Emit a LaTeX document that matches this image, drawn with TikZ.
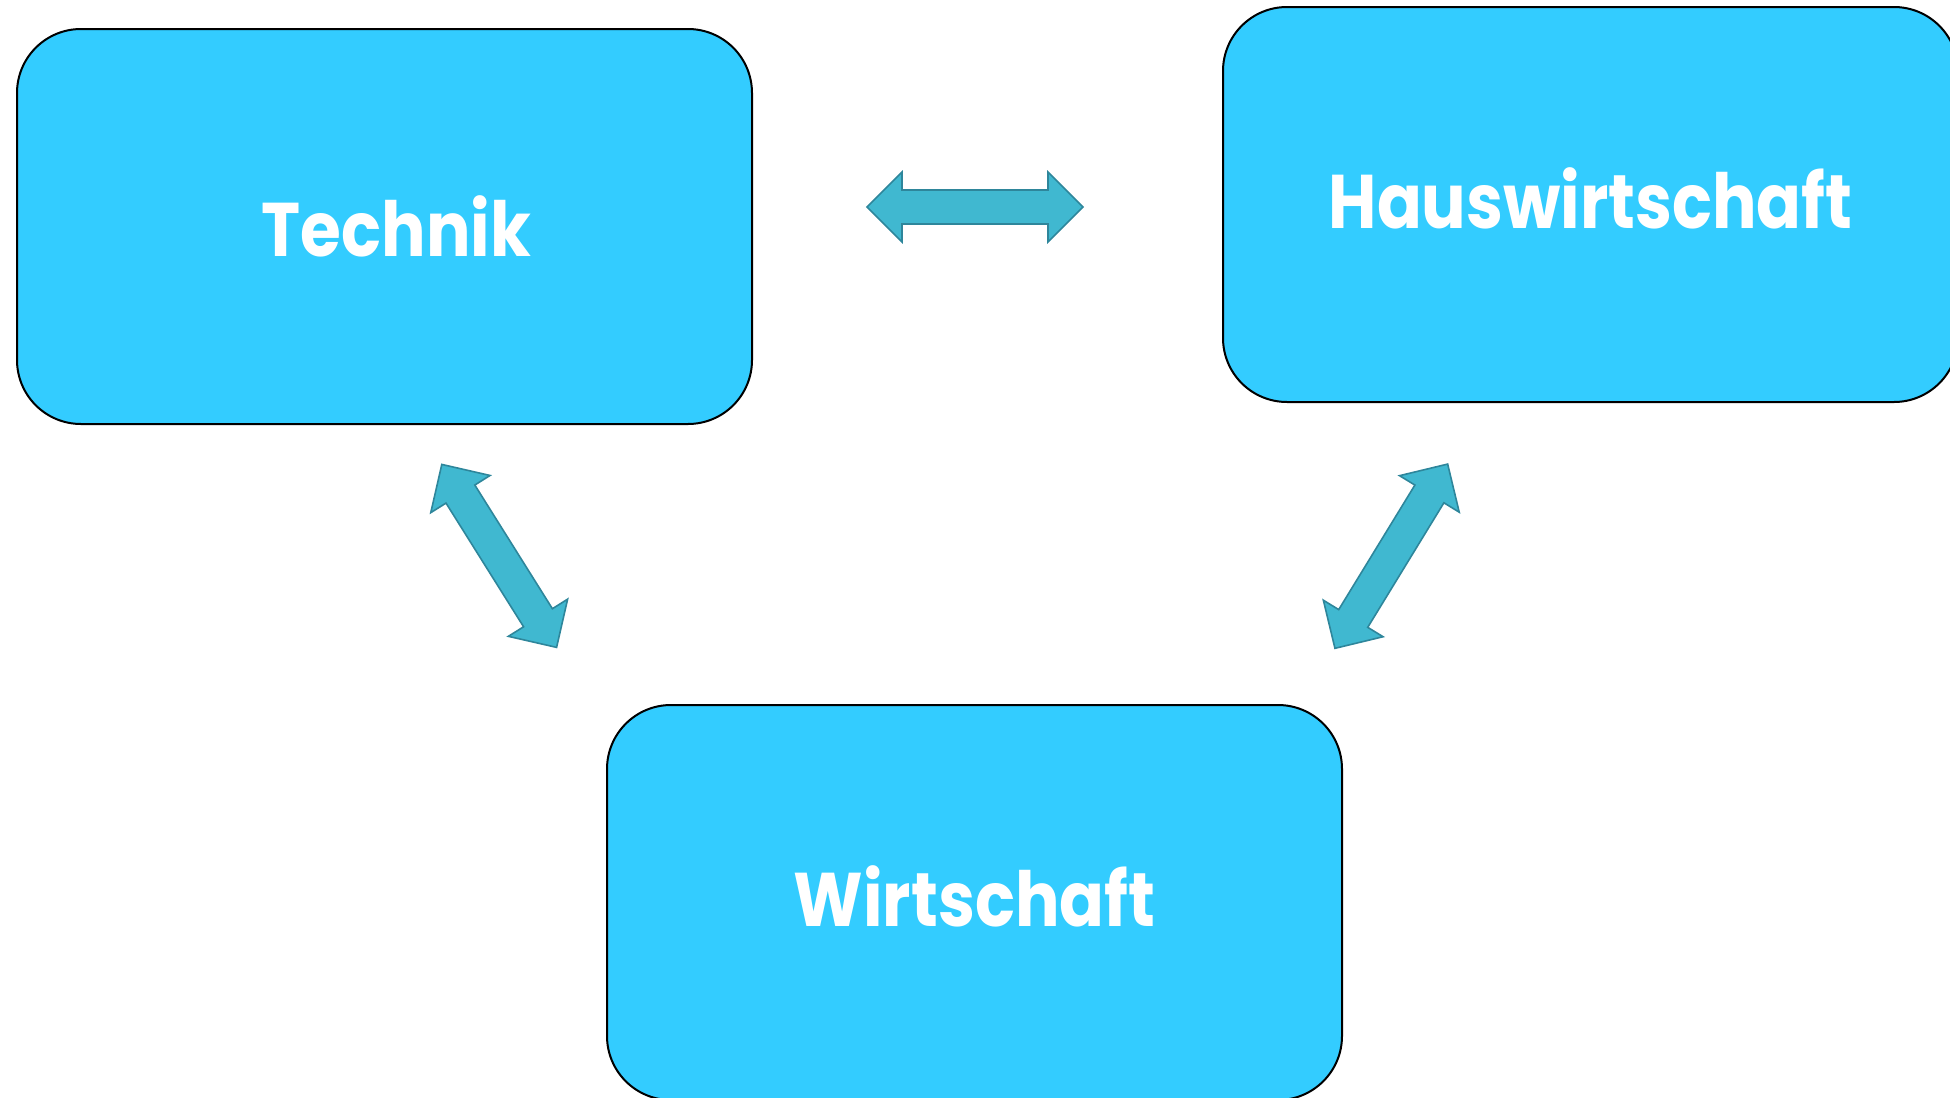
\documentclass[tikz,border=0pt]{standalone}
\usepackage{fontspec}
\newfontfamily\popfont{Poppins}[FakeStretch=0.87]
\definecolor{boxblue}{RGB}{51,204,255}
\definecolor{arrowfill}{RGB}{64,184,208}
\definecolor{arrowline}{RGB}{46,134,155}
\tikzset{
  topicbox/.style={draw=black, line width=1pt, fill=boxblue, rounded corners=32pt,
    minimum width=367.5pt, minimum height=197.5pt, inner sep=0pt, text=white,
    font=\popfont\bfseries\fontsize{38}{40}\selectfont},
  blockarrow/.style={fill=arrowfill, draw=arrowline, line width=0.8pt, line join=miter}
}
\newcommand{\dblarrow}{(-108,0) -- (-73,35) -- (-73,17) -- (73,17) -- (73,35) -- (108,0) -- (73,-35) -- (73,-17) -- (-73,-17) -- (-73,-35) -- cycle}
\begin{document}
\begin{tikzpicture}[x=0.5pt,y=-0.5pt]
\useasboundingbox (0,0) rectangle (1950,1098);
\clip (0,0) rectangle (1950,1098);
\node[topicbox] (technik) at (384.5,226.5) {\hspace*{12pt}Technik};
\node[topicbox] (haus) at (1590.5,204.5) {\raisebox{6pt}{Hauswirtschaft}};
\node[topicbox] (wirt) at (974.5,902.5) {\raisebox{6pt}{Wirtschaft}};
\begin{scope}[shift={(975,207)}]
  \draw[blockarrow] \dblarrow;
\end{scope}
\begin{scope}[shift={(499.2,555.9)}, rotate=-57.9]
  \draw[blockarrow] \dblarrow;
\end{scope}
\begin{scope}[shift={(1391.3,556.2)}, rotate=58.55]
  \draw[blockarrow] \dblarrow;
\end{scope}
\end{tikzpicture}
\end{document}
